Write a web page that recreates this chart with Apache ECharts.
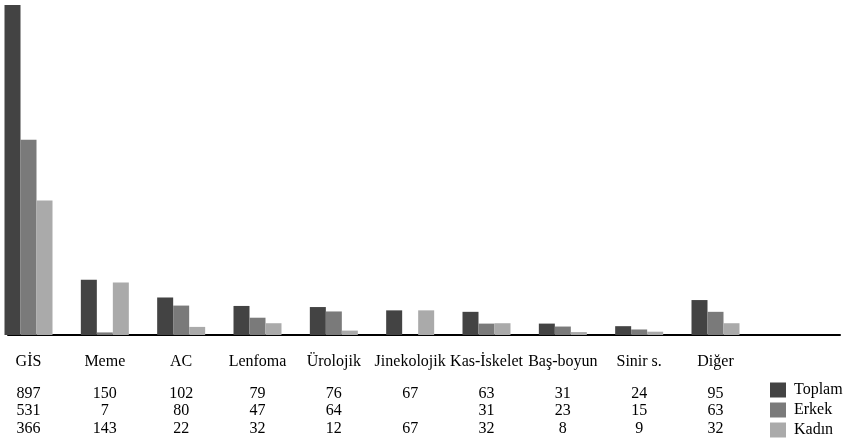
<!DOCTYPE html>
<html>
<head>
<meta charset="utf-8">
<script src="https://cdn.jsdelivr.net/npm/echarts@6/dist/echarts.min.js"></script>
<style>
  html, body { margin: 0; padding: 0; background: #fff; }
  #chart { width: 844px; height: 444px; }
</style>
</head>
<body>
<div id="chart"></div>
<script>
// Tumor groups and patient counts (total / male / female)
const categories = ['GİS', 'Meme', 'AC', 'Lenfoma', 'Ürolojik', 'Jinekolojik', 'Kas-İskelet', 'Baş-boyun', 'Sinir s.', 'Diğer'];
const toplam = [897, 150, 102, 79, 76, 67, 63, 31, 24, 95];
const erkek  = [531, 7, 80, 47, 64, null, 31, 23, 15, 63];
const kadin  = [366, 143, 22, 32, 12, 67, 32, 8, 9, 32];
const seriesNames = ['Toplam', 'Erkek', 'Kadın'];

const colors = ['#434343', '#7a7a7a', '#aaaaaa'];
const FONT = '"Liberation Serif", "Times New Roman", serif';
const rows = [toplam, erkek, kadin];
const rowOffsets = [58.5, 76, 93.5];

const labelStyle = (margin) => ({
  interval: 0, color: '#000', fontFamily: FONT, fontSize: 16,
  margin: margin, verticalAlign: 'middle'
});

// One line-less category axis per table row, sharing the bar grid's ticks
const rowAxes = rows.map((vals, i) => ({
  type: 'category', gridIndex: 0, position: 'bottom', offset: rowOffsets[i],
  boundaryGap: false,
  data: vals.map(v => (v == null ? '' : String(v))),
  axisLine: { show: false }, axisTick: { show: false },
  axisLabel: labelStyle(0)
}));

const chart = echarts.init(document.getElementById('chart'), null, { renderer: 'canvas' });
chart.setOption({
  animation: false,
  backgroundColor: '#fff',
  color: colors,
  grid: [
    { left: 28.5, right: 128.5, top: 4, bottom: 109 },
    { left: 8, right: 4, top: 4, bottom: 109 }
  ],
  legend: {
    orient: 'vertical', left: 770, top: 382, padding: 0,
    itemWidth: 16, itemHeight: 15, itemGap: 4, icon: 'rect',
    data: seriesNames,
    textStyle: { fontFamily: FONT, fontSize: 16, color: '#000', padding: [0, 0, 0, 3] }
  },
  xAxis: [
    {
      type: 'category', gridIndex: 0, data: categories, boundaryGap: false,
      axisLine: { show: false }, axisTick: { show: false },
      axisLabel: labelStyle(26.5)
    },
    ...rowAxes,
    {
      // baseline under the bars, running across the table width
      type: 'value', gridIndex: 1, min: 0, max: 1,
      axisLine: { show: true, onZero: false, lineStyle: { color: '#000', width: 2 } },
      axisTick: { show: false }, axisLabel: { show: false }, splitLine: { show: false }
    }
  ],
  yAxis: [
    { type: 'value', gridIndex: 0, min: 0, max: 900, show: false },
    { type: 'value', gridIndex: 1, min: 0, max: 1, show: false }
  ],
  series: rows.map((vals, i) => ({
    name: seriesNames[i], type: 'bar', xAxisIndex: 0, yAxisIndex: 0,
    data: vals, barWidth: 16, barGap: '0%',
    itemStyle: { color: colors[i] }
  }))
});
</script>
</body>
</html>
